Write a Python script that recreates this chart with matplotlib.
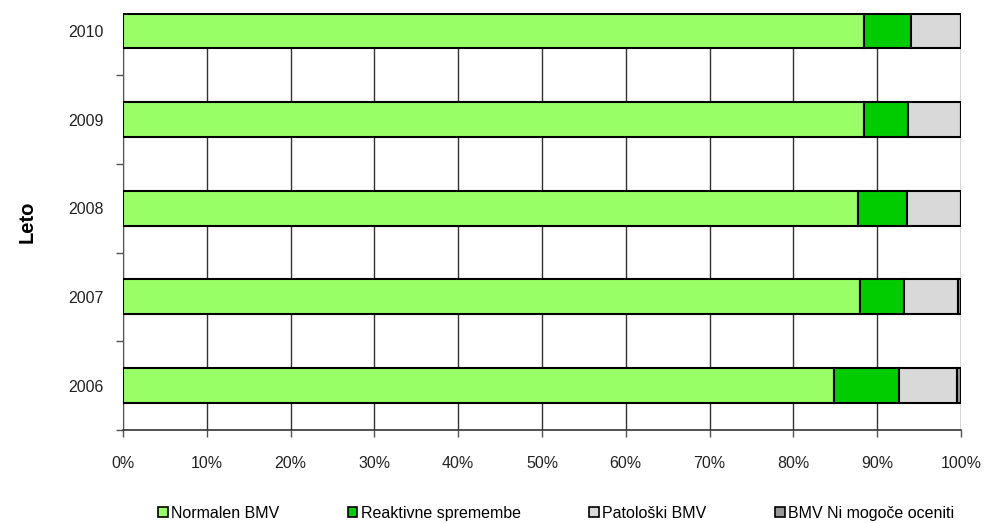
import matplotlib
matplotlib.use("Agg")
import matplotlib.pyplot as plt
from matplotlib.patches import Patch
import numpy as np

plt.rcParams['font.family'] = ['Liberation Sans', 'DejaVu Sans']

years = ['2006', '2007', '2008', '2009', '2010']
series_names = ['Normalen BMV', 'Reaktivne spremembe', 'Patološki BMV', 'BMV Ni mogoče oceniti']
normalen = [84.9, 87.9, 87.7, 88.4, 88.4]
reaktivne = [7.7, 5.3, 5.9, 5.3, 5.6]
patoloski = [6.9, 6.4, 6.4, 6.3, 6.0]
ni_mogoce = [0.5, 0.4, 0.0, 0.0, 0.0]
colors = ['#99FF66', '#00CC00', '#D9D9D9', '#969696']
xticks = [0, 10, 20, 30, 40, 50, 60, 70, 80, 90, 100]

fig = plt.figure(figsize=(9.84, 5.23), dpi=100)
ax = fig.add_axes([0.125, 0.178, 0.8516, 0.797])

y = np.arange(len(years))
h = 0.393
left = np.zeros(len(years))
for vals, c in zip([normalen, reaktivne, patoloski, ni_mogoce], colors):
    vals = np.array(vals)
    ax.barh(y, vals, left=left, height=h, color=c, edgecolor='black', linewidth=1.5, zorder=3)
    left += vals

ax.set_xlim(0, 100)
ax.set_ylim(-0.5, 4 + h / 2 + 0.005)
ax.set_xticks(xticks)
ax.set_xticklabels([f'{v}%' for v in xticks], fontsize=11.5, color='#222222')
ax.set_yticks(y)
ax.set_yticklabels(years, fontsize=11.5, color='#222222')
ax.set_yticks(np.arange(-0.5, 4, 1.0), minor=True)
ax.tick_params(axis='y', which='major', length=0, pad=14)
ax.tick_params(axis='y', which='minor', length=5, width=1, color='#555555', direction='out')
ax.tick_params(axis='x', length=5, width=1, color='#555555', direction='out', pad=14)
ax.grid(axis='x', color='#333333', linewidth=1, zorder=1)
for s in ['top', 'right']:
    ax.spines[s].set_visible(False)
ax.spines['left'].set_color('#555555')
ax.spines['bottom'].set_color('#333333')
ax.spines['bottom'].set_linewidth(1.2)
ax.set_ylabel('Leto', fontsize=14.5, fontweight='bold')
ax.yaxis.set_label_coords(-0.103, 0.5)

handles = [Patch(facecolor=c, edgecolor='black', linewidth=1.2) for c in colors]
fig.legend(handles, series_names, loc='center', bbox_to_anchor=(0.565, 0.019), ncol=4,
           frameon=False, fontsize=11.5, handlelength=0.6, handleheight=0.6, handletextpad=0.2,
           columnspacing=4.3)

fig.savefig('out.png', dpi=100)
